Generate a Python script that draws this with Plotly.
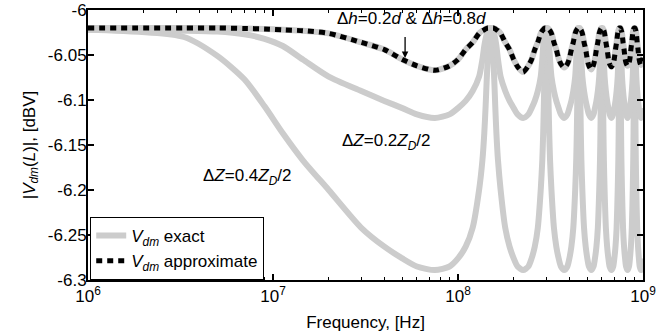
import plotly.graph_objects as go

F_MHZ = [
    1, 3.3, 5, 7, 9, 11.3, 14.5, 20, 30, 40, 50, 60, 75,
    90, 100, 110, 120, 130, 135.5, 138.7, 141, 143, 145, 146.7, 150,
    153.3, 155, 157, 159, 161.3, 164.5, 170, 180, 190, 200, 210, 225,
    240, 250, 260, 270, 280, 285.5, 288.7, 291, 293, 295, 296.7, 300,
    303.3, 305, 307, 309, 311.3, 314.5, 320, 330, 340, 350, 360, 375,
    390, 400, 410, 420, 430, 435.5, 438.7, 441, 443, 445, 446.7, 450,
    453.3, 455, 457, 459, 461.3, 464.5, 470, 480, 490, 500, 510, 525,
    540, 550, 560, 570, 580, 585.5, 588.7, 591, 593, 595, 596.7, 600,
    603.3, 605, 607, 609, 611.3, 614.5, 620, 630, 640, 650, 660, 675,
    690, 700, 710, 720, 730, 735.5, 738.7, 741, 743, 745, 746.7, 750,
    753.3, 755, 757, 759, 761.3, 764.5, 770, 780, 790, 800, 810, 825,
    840, 850, 860, 870, 880, 885.5, 888.7, 891, 893, 895, 896.7, 900,
    903.3, 905, 907, 909, 911.3, 914.5, 920, 930, 940, 950, 960, 975,
    990, 1000,
]

# |Vdm(L)| exact, dZ = 0.4 ZD/2
V_DZ04 = [
    -6.022, -6.030, -6.051, -6.077, -6.107, -6.137, -6.167, -6.200, -6.242, -6.263, -6.276, -6.285, -6.289,
    -6.285, -6.276, -6.263, -6.242, -6.200, -6.167, -6.137, -6.107, -6.077, -6.051, -6.030, -6.022,
    -6.030, -6.051, -6.077, -6.107, -6.137, -6.167, -6.200, -6.242, -6.263, -6.276, -6.285, -6.289,
    -6.285, -6.276, -6.263, -6.242, -6.200, -6.167, -6.137, -6.107, -6.077, -6.051, -6.030, -6.022,
    -6.030, -6.051, -6.077, -6.107, -6.137, -6.167, -6.200, -6.242, -6.263, -6.276, -6.285, -6.289,
    -6.285, -6.276, -6.263, -6.242, -6.200, -6.167, -6.137, -6.107, -6.077, -6.051, -6.030, -6.022,
    -6.030, -6.051, -6.077, -6.107, -6.137, -6.167, -6.200, -6.242, -6.263, -6.276, -6.285, -6.289,
    -6.285, -6.276, -6.263, -6.242, -6.200, -6.167, -6.137, -6.107, -6.077, -6.051, -6.030, -6.022,
    -6.030, -6.051, -6.077, -6.107, -6.137, -6.167, -6.200, -6.242, -6.263, -6.276, -6.285, -6.289,
    -6.285, -6.276, -6.263, -6.242, -6.200, -6.167, -6.137, -6.107, -6.077, -6.051, -6.030, -6.022,
    -6.030, -6.051, -6.077, -6.107, -6.137, -6.167, -6.200, -6.242, -6.263, -6.276, -6.285, -6.289,
    -6.285, -6.276, -6.263, -6.242, -6.200, -6.167, -6.137, -6.107, -6.077, -6.051, -6.030, -6.022,
    -6.030, -6.051, -6.077, -6.107, -6.137, -6.167, -6.200, -6.242, -6.263, -6.276, -6.285, -6.289,
    -6.285, -6.276,
]

# |Vdm(L)| exact, dZ = 0.2 ZD/2
V_DZ02 = [
    -6.022, -6.023, -6.024, -6.027, -6.032, -6.040, -6.055, -6.074, -6.090, -6.101, -6.109, -6.116, -6.120,
    -6.116, -6.109, -6.101, -6.090, -6.074, -6.055, -6.040, -6.032, -6.027, -6.024, -6.023, -6.022,
    -6.023, -6.024, -6.027, -6.032, -6.040, -6.055, -6.074, -6.090, -6.101, -6.109, -6.116, -6.120,
    -6.116, -6.109, -6.101, -6.090, -6.074, -6.055, -6.040, -6.032, -6.027, -6.024, -6.023, -6.022,
    -6.023, -6.024, -6.027, -6.032, -6.040, -6.055, -6.074, -6.090, -6.101, -6.109, -6.116, -6.120,
    -6.116, -6.109, -6.101, -6.090, -6.074, -6.055, -6.040, -6.032, -6.027, -6.024, -6.023, -6.022,
    -6.023, -6.024, -6.027, -6.032, -6.040, -6.055, -6.074, -6.090, -6.101, -6.109, -6.116, -6.120,
    -6.116, -6.109, -6.101, -6.090, -6.074, -6.055, -6.040, -6.032, -6.027, -6.024, -6.023, -6.022,
    -6.023, -6.024, -6.027, -6.032, -6.040, -6.055, -6.074, -6.090, -6.101, -6.109, -6.116, -6.120,
    -6.116, -6.109, -6.101, -6.090, -6.074, -6.055, -6.040, -6.032, -6.027, -6.024, -6.023, -6.022,
    -6.023, -6.024, -6.027, -6.032, -6.040, -6.055, -6.074, -6.090, -6.101, -6.109, -6.116, -6.120,
    -6.116, -6.109, -6.101, -6.090, -6.074, -6.055, -6.040, -6.032, -6.027, -6.024, -6.023, -6.022,
    -6.023, -6.024, -6.027, -6.032, -6.040, -6.055, -6.074, -6.090, -6.101, -6.109, -6.116, -6.120,
    -6.116, -6.109,
]

# |Vdm(L)| for dh = 0.2d & dh = 0.8d (exact and approximate coincide)
V_DH = [
    -6.020, -6.020, -6.020, -6.0205, -6.021, -6.022, -6.023, -6.026, -6.036, -6.044, -6.055, -6.062, -6.067,
    -6.062, -6.055, -6.044, -6.036, -6.026, -6.023, -6.022, -6.021, -6.0205, -6.020, -6.020, -6.020,
    -6.020, -6.020, -6.0205, -6.021, -6.022, -6.023, -6.026, -6.036, -6.044, -6.055, -6.063, -6.069,
    -6.062, -6.055, -6.044, -6.036, -6.026, -6.023, -6.022, -6.021, -6.0205, -6.020, -6.020, -6.020,
    -6.020, -6.020, -6.0205, -6.021, -6.022, -6.023, -6.026, -6.036, -6.044, -6.054, -6.060, -6.064,
    -6.060, -6.054, -6.044, -6.036, -6.026, -6.023, -6.022, -6.021, -6.0205, -6.020, -6.020, -6.020,
    -6.020, -6.020, -6.0205, -6.021, -6.022, -6.023, -6.026, -6.036, -6.044, -6.055, -6.062, -6.066,
    -6.061, -6.054, -6.044, -6.036, -6.026, -6.023, -6.022, -6.021, -6.0205, -6.020, -6.020, -6.020,
    -6.020, -6.020, -6.0205, -6.021, -6.022, -6.023, -6.026, -6.036, -6.044, -6.054, -6.060, -6.063,
    -6.060, -6.054, -6.044, -6.036, -6.026, -6.023, -6.022, -6.021, -6.0205, -6.020, -6.020, -6.020,
    -6.020, -6.020, -6.0205, -6.021, -6.022, -6.023, -6.026, -6.036, -6.044, -6.054, -6.059, -6.062,
    -6.059, -6.054, -6.044, -6.036, -6.026, -6.023, -6.022, -6.021, -6.0205, -6.020, -6.020, -6.020,
    -6.020, -6.020, -6.0205, -6.021, -6.022, -6.023, -6.026, -6.036, -6.044, -6.053, -6.058, -6.061,
    -6.058, -6.053,
]

X_TICKS = [1e6, 1e7, 1e8, 1e9]
X_TICK_TEXT = ["10<sup>6</sup>", "10<sup>7</sup>", "10<sup>8</sup>", "10<sup>9</sup>"]
X_MINOR = [d * 10 ** e for e in (6, 7, 8) for d in range(2, 10)]
Y_TICKS = [-6.3, -6.25, -6.2, -6.15, -6.1, -6.05, -6.0]
Y_TICK_TEXT = ["-6.3", "-6.25", "-6.2", "-6.15", "-6.1", "-6.05", "-6"]

freq_hz = [f * 1e6 for f in F_MHZ]

GRAY = "#cccccc"
FONT = "Liberation Sans, Arial, Helvetica, sans-serif"
FS = 17

fig = go.Figure()
gray_line = dict(color=GRAY, width=6, shape="spline", smoothing=0.7)
fig.add_trace(go.Scatter(x=freq_hz, y=V_DZ04, mode="lines", line=gray_line,
                         name="<i>V</i><sub><i>dm</i></sub> exact", showlegend=True))
fig.add_trace(go.Scatter(x=freq_hz, y=V_DZ02, mode="lines", line=gray_line, showlegend=False))
fig.add_trace(go.Scatter(x=freq_hz, y=V_DH, mode="lines", line=gray_line, showlegend=False))
fig.add_trace(go.Scatter(x=freq_hz, y=V_DH, mode="lines",
                         line=dict(color="black", width=5, dash="6px,5px",
                                   shape="spline", smoothing=0.7),
                         name="<i>V</i><sub><i>dm</i></sub> approximate", showlegend=True))

axis_common = dict(showline=True, linecolor="black", linewidth=2, mirror="allticks",
                   ticks="inside", ticklen=6, tickwidth=1.5, tickcolor="black",
                   showgrid=False, zeroline=False, automargin=False,
                   tickfont=dict(family=FONT, size=FS, color="black"))

fig.update_xaxes(type="log", range=[6, 9], tickmode="array", tickvals=X_TICKS,
                 ticktext=X_TICK_TEXT,
                 minor=dict(ticks="inside", ticklen=3, tickwidth=1, tickcolor="black",
                            tickmode="array", tickvals=X_MINOR, showgrid=False),
                 title=dict(text="Frequency, [Hz]", font=dict(family=FONT, size=FS, color="black"),
                            standoff=11),
                 **axis_common)
fig.update_yaxes(range=[-6.3, -6.0], tickmode="array", tickvals=Y_TICKS, ticktext=Y_TICK_TEXT,
                 ticklabelstandoff=-4,
                 title=dict(text="|<i>V</i><sub><i>dm</i></sub>(<i>L</i>)|, [dBV]",
                            font=dict(family=FONT, size=FS, color="black"), standoff=8),
                 **axis_common)

ann_font = dict(family=FONT, size=FS, color="black")
fig.add_annotation(x=6.86, y=-6.1856, xref="x", yref="y",
                   text="Δ<i>Z</i>=0.4<i>Z</i><sub><i>D</i></sub>/2",
                   showarrow=False, font=ann_font)
fig.add_annotation(x=7.611, y=-6.1467, xref="x", yref="y",
                   text="Δ<i>Z</i>=0.2<i>Z</i><sub><i>D</i></sub>/2",
                   showarrow=False, font=ann_font)
fig.add_annotation(x=7.746, y=-6.0095, xref="x", yref="y",
                   text="Δ<i>h</i>=0.2<i>d</i> & Δ<i>h</i>=0.8<i>d</i>",
                   showarrow=False, font=ann_font)
fig.add_annotation(x=7.714, y=-6.0533, xref="x", yref="y", text=" ",
                   showarrow=True, ax=0, ay=-32, arrowhead=2, arrowsize=1,
                   arrowwidth=1.3, arrowcolor="black", font=ann_font)

fig.update_layout(
    width=660, height=335,
    margin=dict(l=88, r=17, t=10, b=55),
    paper_bgcolor="white", plot_bgcolor="white",
    font=dict(family=FONT, size=FS, color="black"),
    legend=dict(x=0.004, y=0, xanchor="left", yanchor="bottom",
                bgcolor="white", bordercolor="black", borderwidth=1,
                font=dict(family=FONT, size=FS, color="black"),
                itemwidth=30, tracegroupgap=0),
    showlegend=True,
)

fig.write_html("out.html", config={"displayModeBar": False},
               post_script="document.body.style.margin='0';")
